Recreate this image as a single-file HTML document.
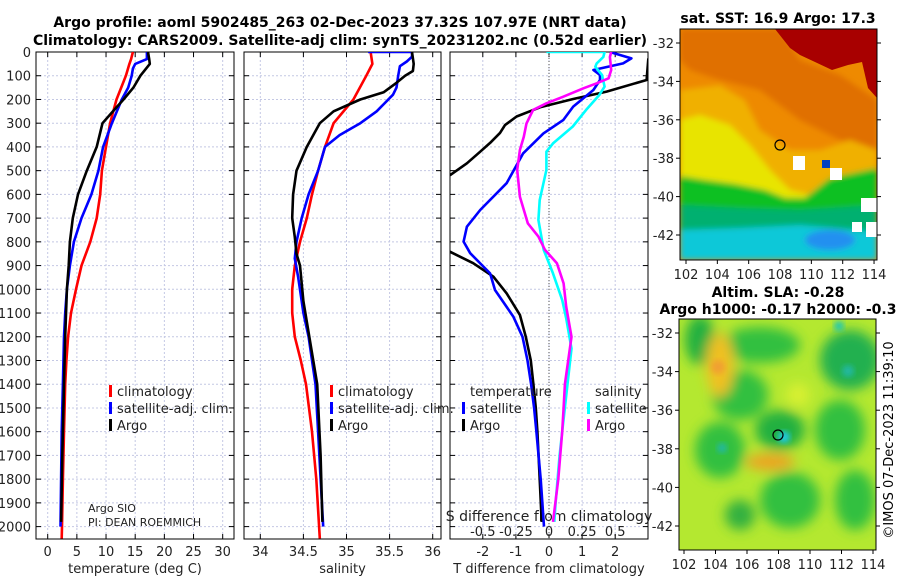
<!DOCTYPE html>
<html><head><meta charset="utf-8"><style>
html,body{margin:0;padding:0;background:#fff;}
svg{display:block;font-family:"DejaVu Sans","Liberation Sans",sans-serif;}
</style></head><body>
<svg id="fig" width="900" height="580" viewBox="0 0 900 580" xmlns="http://www.w3.org/2000/svg">
<defs>
<clipPath id="c1"><rect x="36" y="52" width="198" height="487"/></clipPath>
<clipPath id="c2"><rect x="244" y="52" width="197" height="487"/></clipPath>
<clipPath id="c3"><rect x="450" y="52" width="198" height="487"/></clipPath>
<clipPath id="cm1"><rect x="680" y="29" width="197" height="231"/></clipPath>
<clipPath id="cm2"><rect x="679" y="319" width="197" height="231"/></clipPath>
<filter id="bl" x="-20%" y="-20%" width="140%" height="140%"><feGaussianBlur stdDeviation="3"/></filter>
<filter id="bl2" x="-50%" y="-50%" width="200%" height="200%"><feGaussianBlur stdDeviation="6"/></filter>
</defs>
<g font-weight="bold" font-size="14" fill="#000" text-anchor="middle">
<text x="340" y="27">Argo profile: aoml 5902485_263 02-Dec-2023 37.32S 107.97E (NRT data)</text>
<text x="340" y="45">Climatology: CARS2009. Satellite-adj clim: synTS_20231202.nc (0.52d earlier)</text>
</g>

<!-- SST map -->
<g clip-path="url(#cm1)">
<rect x="680" y="29" width="197" height="231" fill="#ee8a00"/>
<g filter="url(#bl)">
<polygon fill="#e07000" points="680,29 780,29 800,60 840,75 877,100 877,150 840,140 800,120 760,90 720,80 690,70 680,60"/>
<polygon fill="#f0b000" points="680,90 720,85 745,100 760,130 790,150 820,150 850,140 877,150 877,175 840,180 800,200 770,195 740,185 700,180 680,175"/>
<polygon fill="#e8e400" points="680,120 700,115 730,125 750,145 770,170 790,190 810,195 800,205 770,198 740,185 700,182 680,178"/>
<polygon fill="#10c020" points="680,176 705,180 735,184 765,190 785,198 805,198 830,178 877,168 877,260 680,260"/>
<polygon fill="#00b070" points="680,205 740,208 800,210 877,205 877,260 680,260"/>
<polygon fill="#10c8d8" points="680,230 740,228 800,225 877,232 877,260 680,260"/>
<ellipse cx="830" cy="240" rx="25" ry="10" fill="#2090f0"/>
</g>
<polygon fill="#a80000" points="775,29 790,48 800,55 815,62 832,70 848,65 862,62 868,88 877,98 877,29"/>
<rect x="793" y="156" width="12" height="14" fill="#fff"/>
<rect x="830" y="168" width="12" height="12" fill="#fff"/>
<rect x="861" y="198" width="16" height="14" fill="#fff"/>
<rect x="852" y="222" width="10" height="10" fill="#fff"/>
<rect x="866" y="222" width="11" height="15" fill="#fff"/>
<rect x="822" y="160" width="8" height="8" fill="#0040c0"/>
</g>
<rect x="680" y="29" width="197" height="231" fill="none" stroke="#000" stroke-width="1"/>
<circle cx="780" cy="145" r="5" fill="none" stroke="#000" stroke-width="1.2"/>
<text x="778" y="23" font-weight="bold" font-size="14" text-anchor="middle">sat. SST: 16.9 Argo: 17.3</text>

<!-- SLA map -->
<g clip-path="url(#cm2)">
<rect x="679" y="319" width="197" height="231" fill="#b4e830"/>
<g filter="url(#bl2)">
<ellipse cx="700" cy="340" rx="15" ry="25" fill="#20b040"/>
<ellipse cx="760" cy="345" rx="40" ry="18" fill="#30c040"/>
<ellipse cx="850" cy="360" rx="30" ry="30" fill="#20b050"/>
<ellipse cx="740" cy="395" rx="28" ry="25" fill="#30c040"/>
<ellipse cx="780" cy="430" rx="25" ry="20" fill="#20b040"/>
<ellipse cx="720" cy="450" rx="25" ry="28" fill="#30c040"/>
<ellipse cx="840" cy="430" rx="25" ry="30" fill="#30c040"/>
<ellipse cx="790" cy="500" rx="30" ry="28" fill="#30c040"/>
<ellipse cx="855" cy="500" rx="20" ry="30" fill="#30c040"/>
<ellipse cx="740" cy="515" rx="15" ry="15" fill="#30b040"/>
<ellipse cx="720" cy="365" rx="14" ry="32" fill="#f0c020"/>
<ellipse cx="770" cy="462" rx="25" ry="8" fill="#f0a020"/>
<ellipse cx="798" cy="395" rx="12" ry="12" fill="#d8f030"/>
</g>
<circle cx="718" cy="367" r="7" fill="#f0a030" filter="url(#bl)"/>
<circle cx="784" cy="437" r="6" fill="#20c8e0" filter="url(#bl)"/>
<circle cx="722" cy="448" r="5" fill="#20b8a0" filter="url(#bl)"/>
<circle cx="848" cy="371" r="6" fill="#20b8a0" filter="url(#bl)"/>
<circle cx="839" cy="326" r="5" fill="#20c8b0" filter="url(#bl)"/>
</g>
<rect x="679" y="319" width="197" height="231" fill="none" stroke="#000" stroke-width="1"/>
<circle cx="778" cy="435" r="5" fill="none" stroke="#000" stroke-width="1.2"/>
<g font-weight="bold" font-size="14" text-anchor="middle">
<text x="778" y="297">Altim. SLA: -0.28</text>
<text x="778" y="314">Argo h1000: -0.17 h2000: -0.3</text>
</g>
<text transform="translate(893,440) rotate(-90)" font-size="13" text-anchor="middle">©IMOS 07-Dec-2023 11:39:10</text>

<g id="axes"></g>
<g id="marks"></g>
</svg>
<script>
// ---------- data ----------
const depthTicks = [0,100,200,300,400,500,600,700,800,900,1000,1100,1200,1300,1400,1500,1600,1700,1800,1900,2000];
const tempTicks = [0,5,10,15,20,25,30];
const salTicks = [34,34.5,35,35.5,36];
const salTickLabels = ["34","34.5","35","35.5","36"];
const tdiffTicks = [-2,-1,0,1,2];
const sdiffTicks = [-0.5,-0.25,0,0.25,0.5];
const sdiffLabels = ["-0.5","-0.25","0","0.25","0.5"];

const tClimDepth = [0,30,50,100,150,200,300,400,500,600,700,800,900,1000,1100,1200,1300,1400,1600,1800,2000,2050];
const tClimVal   = [14.6,14.3,14.0,13.4,12.6,11.8,10.7,10.0,9.3,9.0,8.4,7.3,5.8,4.85,4.0,3.5,3.2,3.0,2.8,2.6,2.45,2.4];
const tSatDepth  = [0,30,50,70,100,150,200,300,400,500,600,700,800,900,1000,1100,1200,1400,1600,1800,2000];
const tSatVal    = [17.0,17.0,15.0,14.6,14.4,13.8,12.7,11.0,9.5,8.7,7.5,5.8,4.5,3.8,3.3,3.0,2.8,2.6,2.4,2.3,2.2];
const tArgoDepth = [0,30,50,100,150,200,250,300,400,500,600,700,800,900,1000,1200,1400,1700,1980];
const tArgoVal   = [17.2,17.4,17.5,15.9,14.7,13.0,11.2,9.4,8.4,6.7,5.2,4.3,3.8,3.6,3.3,3.0,2.8,2.5,2.3];

const sClimDepth = [0,50,100,200,300,400,500,600,700,800,900,1000,1100,1200,1300,1400,1600,1800,2050];
const sClimVal   = [35.28,35.30,35.23,35.08,34.85,34.75,34.67,34.60,34.54,34.46,34.40,34.37,34.37,34.40,34.47,34.53,34.60,34.65,34.69];
const sSatDepth  = [0,0,20,40,60,100,150,180,250,300,350,400,500,600,700,800,870,950,1050,1100,1200,1300,1400,1600,1800,2000];
const sSatVal    = [35.25,35.76,35.76,35.70,35.62,35.60,35.58,35.54,35.35,35.16,34.92,34.75,34.67,34.56,34.48,34.42,34.40,34.44,34.48,34.50,34.56,34.60,34.64,34.67,34.70,34.73];
const sArgoDepth = [0,50,80,100,130,170,200,250,300,400,500,600,700,780,850,900,1050,1400,1700,1980];
const sArgoVal   = [35.76,35.78,35.77,35.68,35.58,35.43,35.16,34.85,34.69,34.54,34.42,34.38,34.37,34.40,34.42,34.46,34.50,34.66,34.70,34.72];

const dtArgoDepth = [0,30,118,167,198,233,272,308,341,383,420,469,518,600,750,841,890,947,1017,1108,1200,1300,1400,1500,1600,1800,1980];
const dtArgoVal   = [3.3,3.0,2.95,1.74,0.73,-0.27,-0.98,-1.33,-1.48,-1.78,-2.08,-2.48,-2.98,-4,-4,-3.0,-2.29,-1.68,-1.28,-0.88,-0.7,-0.55,-0.47,-0.40,-0.35,-0.28,-0.22];
const dtSatDepth  = [0,27,48,76,97,118,160,230,287,343,427,553,666,736,799,848,933,1003,1115,1200,1300,1400,1500,1600,1800,2000];
const dtSatVal    = [1.84,2.49,2.24,1.34,1.54,1.54,1.34,0.73,0.43,-0.17,-0.78,-1.28,-2.08,-2.48,-2.58,-2.38,-1.78,-1.63,-1.08,-0.8,-0.65,-0.54,-0.45,-0.38,-0.25,-0.15];
const dsSatDepth  = [0,0,21,48,62,97,146,181,244,314,385,420,497,624,708,834,933,1045,1122,1250,1400,1600,1700,1900,1980];
const dsSatVal    = [-0.02,0.42,0.41,0.36,0.35,0.40,0.42,0.38,0.28,0.18,0.03,-0.02,-0.02,-0.07,-0.08,-0.04,0.03,0.10,0.13,0.17,0.14,0.10,0.08,0.05,0.04];
const dsArgoDepth = [0,21,76,111,132,153,188,216,244,301,357,413,497,610,722,778,834,890,975,1073,1200,1400,1500,1600,1800,1980];
const dsArgoVal   = [0.47,0.46,0.47,0.45,0.36,0.26,0.11,-0.02,-0.12,-0.17,-0.19,-0.22,-0.24,-0.22,-0.16,-0.08,-0.03,0.06,0.11,0.13,0.17,0.12,0.11,0.10,0.07,0.03];

const mapLatTicks = [-32,-34,-36,-38,-40,-42];
const mapLonTicks = [102,104,106,108,110,112,114];

// ---------- axis functions ----------
const NS='http://www.w3.org/2000/svg';
const yD = d => 52 + d*0.2373;
const xT = t => 47.7 + t*5.833;
const xS = s => 260.3 + (s-34)*86.2;
const xDT = t => 549 + t*33.1;
const xDS = s => 549 + s*4*33.1;
const yLat1 = l => 43 + (-32-l)*19.2;
const xLon1 = l => 686 + (l-102)*15.67;
const yLat2 = l => 333 + (-32-l)*19.3;
const xLon2 = l => 684 + (l-102)*15.75;

const axes=document.getElementById('axes');
const marks=document.getElementById('marks');
function mk(tag,attrs,parent,text){
  const e=document.createElementNS(NS,tag);
  for(const k in attrs)e.setAttribute(k,attrs[k]);
  if(text!==undefined)e.textContent=text;
  (parent||axes).appendChild(e);return e;
}

const panels=[
  {x0:36,x1:234,ticks:tempTicks,labels:tempTicks.map(String),fx:xT,title:'temperature (deg C)',name:'temperature'},
  {x0:244,x1:441,ticks:salTicks,labels:salTickLabels,fx:xS,title:'salinity',name:'salinity'},
  {x0:450,x1:648,ticks:tdiffTicks,labels:tdiffTicks.map(String),fx:xDT,title:'T difference from climatology',name:'difference'}
];
const yTop=52,yBot=539;
panels.forEach((p,i)=>{
  // grid
  p.ticks.forEach(t=>{
    const gl=mk('line',{x1:p.fx(t),x2:p.fx(t),y1:yTop,y2:yBot,stroke:'#c4c8e4','stroke-width':1,'stroke-dasharray':'2,2'});
    
    
  });
  depthTicks.forEach(d=>{
    const gl=mk('line',{x1:p.x0,x2:p.x1,y1:yD(d),y2:yD(d),stroke:'#c4c8e4','stroke-width':1,'stroke-dasharray':'2,2'});
    
    
    mk('line',{x1:p.x0,x2:p.x0+5,y1:yD(d),y2:yD(d),stroke:'#000'});
    mk('line',{x1:p.x1-5,x2:p.x1,y1:yD(d),y2:yD(d),stroke:'#000'});
  });
  p.ticks.forEach((t,j)=>{
    mk('line',{x1:p.fx(t),x2:p.fx(t),y1:yBot-5,y2:yBot,stroke:'#000'});
    mk('line',{x1:p.fx(t),x2:p.fx(t),y1:yTop,y2:yTop+5,stroke:'#000'});
    const tl=mk('text',{x:p.fx(t),y:556,'font-size':13,'text-anchor':'middle',fill:'#222'},axes,p.labels[j]);
    
    
  });
  const fr=mk('rect',{x:p.x0,y:yTop,width:p.x1-p.x0,height:yBot-yTop,fill:'none',stroke:'#000','stroke-width':1});
  
  
  const at=mk('text',{x:(p.x0+p.x1)/2,y:573,'font-size':13,'text-anchor':'middle',fill:'#222'},axes,p.title);
  
  
});
depthTicks.forEach(d=>{
  const tl=mk('text',{x:31,y:yD(d)+5,'font-size':13,'text-anchor':'end',fill:'#222'},axes,String(d));
  
  
});
// zero line
const zl=mk('line',{x1:xDT(0),x2:xDT(0),y1:yTop,y2:yBot,stroke:'#555','stroke-dasharray':'1,2'});


// S diff axis labels
const sdt=mk('text',{x:549,y:521,'font-size':14,'text-anchor':'middle',fill:'#222'},axes,'S difference from climatology');


sdiffTicks.forEach((s,j)=>{
  const tl=mk('text',{x:xDS(s),y:536,'font-size':13,'text-anchor':'middle',fill:'#222'},axes,sdiffLabels[j]);
  
  
});

// ---------- series ----------
function series(dep,val,fx,color,clip,name){
  const pts=dep.map((d,i)=>fx(val[i]).toFixed(1)+','+yD(d).toFixed(1)).join(' ');
  const pl=mk('polyline',{points:pts,fill:'none',stroke:color,'stroke-width':2.6,'stroke-linejoin':'round','clip-path':'url(#'+clip+')'},marks);
  
  
}
series(tClimDepth,tClimVal,xT,'#ff0000','c1','temperature-climatology-line');
series(tSatDepth,tSatVal,xT,'#0000ff','c1','temperature-satellite-line');
series(tArgoDepth,tArgoVal,xT,'#000000','c1','temperature-argo-line');
series(sClimDepth,sClimVal,xS,'#ff0000','c2','salinity-climatology-line');
series(sSatDepth,sSatVal,xS,'#0000ff','c2','salinity-satellite-line');
series(sArgoDepth,sArgoVal,xS,'#000000','c2','salinity-argo-line');
series(dtArgoDepth,dtArgoVal,xDT,'#000000','c3','tdiff-argo-line');
series(dtSatDepth,dtSatVal,xDT,'#0000ff','c3','tdiff-satellite-line');
series(dsSatDepth,dsSatVal,xDS,'#00ffff','c3','sdiff-satellite-line');
series(dsArgoDepth,dsArgoVal,xDS,'#ff00ff','c3','sdiff-argo-line');

// ---------- legends ----------
function legend(x,y,color,label,name){
  const b=mk('rect',{x:x,y:y-11,width:3,height:12,fill:color},marks);
  
  
  const t=mk('text',{x:x+8,y:y,'font-size':13,fill:'#222'},marks,label);
  
  
}
legend(109,396,'#ff0000','climatology','legend-temp-climatology');
legend(109,413,'#0000ff','satellite-adj. clim.','legend-temp-satellite');
legend(109,430,'#000000','Argo','legend-temp-argo');
legend(330,396,'#ff0000','climatology','legend-sal-climatology');
legend(330,413,'#0000ff','satellite-adj. clim.','legend-sal-satellite');
legend(330,430,'#000000','Argo','legend-sal-argo');
legend(462,413,'#0000ff','satellite','legend-tdiff-satellite');
legend(462,430,'#000000','Argo','legend-tdiff-argo');
legend(587,413,'#00ffff','satellite','legend-sdiff-satellite');
legend(587,430,'#ff00ff','Argo','legend-sdiff-argo');
const lt1=mk('text',{x:470,y:396,'font-size':13,fill:'#222'},marks,'temperature');


const lt2=mk('text',{x:595,y:396,'font-size':13,fill:'#222'},marks,'salinity');


const a1=mk('text',{x:88,y:512,'font-size':11,fill:'#222'},marks,'Argo SIO');


const a2=mk('text',{x:88,y:526,'font-size':11,fill:'#222'},marks,'PI: DEAN ROEMMICH');



// ---------- map ticks ----------
function mapTicks(fy,fx,x0,x1,y0,y1,labY,prefix){
  mapLatTicks.forEach(l=>{
    mk('line',{x1:x1,x2:x1+4,y1:fy(l),y2:fy(l),stroke:'#000'});
    mk('line',{x1:x0,x2:x0-4,y1:fy(l),y2:fy(l),stroke:'#000'});
    const t=mk('text',{x:x0-6,y:fy(l)+5,'font-size':13,'text-anchor':'end',fill:'#222'},axes,String(l));
    
    
  });
  mapLonTicks.forEach(l=>{
    mk('line',{x1:fx(l),x2:fx(l),y1:y1,y2:y1+4,stroke:'#000'});
    const t=mk('text',{x:fx(l),y:labY,'font-size':13,'text-anchor':'middle',fill:'#222'},axes,String(l));
    
    
  });
}
mapTicks(yLat1,xLon1,680,877,29,260,279,'sst-map');
mapTicks(yLat2,xLon2,679,876,319,550,569,'sla-map');
</script>
</body></html>
